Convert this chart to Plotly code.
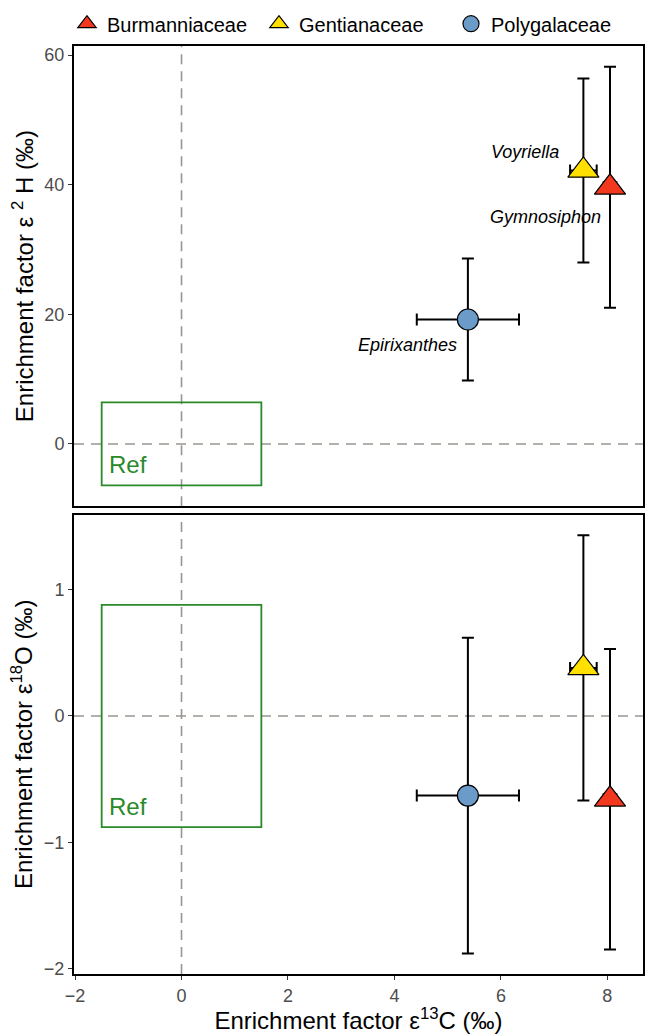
import plotly.graph_objects as go
from plotly.subplots import make_subplots

# ---- data ----
families = ["Burmanniaceae", "Gentianaceae", "Polygalaceae"]
genera = ["Gymnosiphon", "Voyriella", "Epirixanthes"]
eps13C = [8.05, 7.55, 5.38]
eps13C_err = [0.12, 0.25, 0.96]
eps2H = [39.6, 42.2, 19.2]
eps2H_err = [18.6, 14.2, 9.4]
eps18O = [-0.66, 0.38, -0.63]
eps18O_err = [1.19, 1.05, 1.25]

label_x = [6.83, 6.45, 4.24]
label_y = [35.0, 45.1, 15.3]

ref_C = [-1.5, 1.5]
ref_H = [-6.4, 6.4]
ref_O = [-0.88, 0.88]

x_ticks = [-2, 0, 2, 4, 6, 8]
h_ticks = [0, 20, 40, 60]
o_ticks = [-2, -1, 0, 1]

# ---- style ----
colors = ["#F2391F", "#FFE000", "#6B9BC8"]
symbols = ["triangle-up", "triangle-up", "circle"]
sizes = [27, 27, 21]
green = "#2A8A2A"
FONT = "Liberation Sans"
DASH = "10px,7px"

fig = make_subplots(rows=2, cols=1, shared_xaxes=True)

for i, fam in enumerate(families):
    common = dict(
        mode="markers",
        name=fam,
        legendgroup=fam,
        marker=dict(symbol=symbols[i], size=sizes[i], color=colors[i],
                    line=dict(color="black", width=1.2)),
        error_x=dict(type="data", array=[eps13C_err[i]], color="black", thickness=2, width=6),
    )
    fig.add_trace(go.Scatter(x=[eps13C[i]], y=[eps2H[i]],
                             error_y=dict(type="data", array=[eps2H_err[i]], color="black", thickness=2, width=6),
                             showlegend=True, **common), row=1, col=1)
    fig.add_trace(go.Scatter(x=[eps13C[i]], y=[eps18O[i]],
                             error_y=dict(type="data", array=[eps18O_err[i]], color="black", thickness=2, width=6),
                             showlegend=False, **common), row=2, col=1)

# genus labels
for gx, gy, g in zip(label_x, label_y, genera):
    fig.add_annotation(x=gx, y=gy, xref="x", yref="y", text=f"<i>{g}</i>", showarrow=False,
                       font=dict(size=18, color="black", family=FONT))

# reference boxes and dashed zero lines
for (xr, yr, ref) in [("x", "y", ref_H), ("x2", "y2", ref_O)]:
    fig.add_shape(type="line", xref=xr, yref=yr + " domain", x0=0, x1=0, y0=0, y1=1,
                  line=dict(color="#9A9590", width=1.6, dash=DASH), layer="below")
    fig.add_shape(type="line", xref=xr + " domain", yref=yr, x0=0, x1=1, y0=0, y1=0,
                  line=dict(color="#9A9590", width=1.6, dash=DASH), layer="below")
    fig.add_shape(type="rect", xref=xr, yref=yr, x0=ref_C[0], x1=ref_C[1], y0=ref[0], y1=ref[1],
                  line=dict(color=green, width=1.8), fillcolor="rgba(0,0,0,0)")
    fig.add_annotation(x=ref_C[0] + 0.1, y=ref[0], yshift=5, xref=xr, yref=yr,
                       text="Ref", showarrow=False, xanchor="left", yanchor="bottom",
                       font=dict(size=24, color=green, family=FONT))

axis_common = dict(showline=True, linecolor="black", linewidth=2, mirror=True,
                   showgrid=False, zeroline=False, ticks="outside", ticklen=4,
                   tickcolor="#333333", tickwidth=1.2,
                   tickfont=dict(size=18, color="#4D4D4D", family=FONT))

TITLE_FONT = dict(size=24, color="black", family=FONT)

fig.update_xaxes(**axis_common, range=[-2.02, 8.67], tickvals=x_ticks)
fig.update_xaxes(row=1, col=1, showticklabels=False, ticks="")
fig.update_xaxes(row=2, col=1,
                 title=dict(text="Enrichment factor ε<sup>13</sup>C (‰)", font=TITLE_FONT, standoff=2))
fig.update_yaxes(**axis_common)
fig.update_yaxes(row=1, col=1, range=[-9.62, 61.4], tickvals=h_ticks, domain=[0.504, 1.0],
                 title=dict(text="Enrichment factor ε <sup>2</sup> H (‰)", font=TITLE_FONT, standoff=4))
fig.update_yaxes(row=2, col=1, range=[-2.043, 1.594], tickvals=o_ticks, domain=[0.0, 0.495],
                 title=dict(text="Enrichment factor ε<sup>18</sup>O (‰)", font=TITLE_FONT, standoff=4))

fig.update_layout(
    width=645, height=1034,
    margin=dict(l=74, r=2, t=46, b=60, autoexpand=False),
    paper_bgcolor="white", plot_bgcolor="white",
    font=dict(family=FONT, color="black"),
    legend=dict(orientation="h", x=-0.0123, xanchor="left", y=1.003, yanchor="bottom",
                entrywidth=147, entrywidthmode="pixels",
                font=dict(size=20, color="black", family=FONT), itemsizing="trace",
                bgcolor="rgba(0,0,0,0)"),
)

fig.write_html("out.html")
